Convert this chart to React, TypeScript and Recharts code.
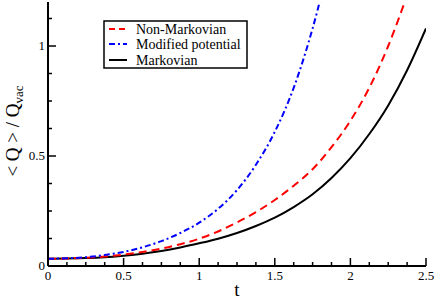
import React from "react";
import { LineChart, Line, XAxis, YAxis, Legend } from "recharts";

// ---- data ----
const tGrid = [0, 0.125, 0.25, 0.375, 0.5, 0.625, 0.75, 0.875, 1, 1.125, 1.25, 1.375, 1.5, 1.625, 1.75, 1.875, 2, 2.125, 2.25, 2.375, 2.5];
const markovV = [0.033, 0.034, 0.036, 0.04, 0.047, 0.056, 0.068, 0.084, 0.103, 0.124, 0.15, 0.182, 0.22, 0.268, 0.326, 0.4, 0.49, 0.6, 0.73, 0.89, 1.08];
const nonMarkovV = [0.033, 0.034, 0.037, 0.043, 0.052, 0.064, 0.079, 0.099, 0.124, 0.157, 0.198, 0.245, 0.3, 0.365, 0.44, 0.54, 0.66, 0.81, 1.0, 1.23];
const modifiedV = [0.033, 0.035, 0.04, 0.05, 0.064, 0.085, 0.113, 0.15, 0.197, 0.26, 0.345, 0.46, 0.61, 0.81, 1.08, 1.42];

const xTicks = [0, 0.125, 0.25, 0.375, 0.5, 0.625, 0.75, 0.875, 1, 1.125, 1.25, 1.375, 1.5, 1.625, 1.75, 1.875, 2, 2.125, 2.25, 2.375, 2.5];
const xMajor = [0, 0.5, 1, 1.5, 2, 2.5];
const yTicks = [0, 0.125, 0.25, 0.375, 0.5, 0.625, 0.75, 0.875, 1, 1.125];
const yMajor = [0, 0.5, 1];

const seriesNames = ["Non-Markovian", "Modified potential", "Markovian"];

const toRows = (vs: number[]) => vs.map((v, i) => ({ t: tGrid[i], v }));
const markovData = toRows(markovV);
const nonMarkovData = toRows(nonMarkovV);
const modifiedData = toRows(modifiedV);

const FONT = '"Liberation Serif", "Times New Roman", Tinos, "DejaVu Serif", "Noto Serif", serif';
const fs = (size: number) => ({ fontFamily: FONT, fontSize: size });
const isMajor = (list: number[], v: number) => list.some((m) => Math.abs(m - v) < 1e-9);

const BottomTick = (p: any) => {
  const v = p.payload.value;
  const major = isMajor(xMajor, v);
  return (
    <g>
      <line x1={p.x} x2={p.x} y1={p.y} y2={p.y - (major ? 8 : 4)} stroke="#000" strokeWidth={1.5} />
      {major && (
        <text x={p.x} y={p.y + 14} textAnchor="middle" style={fs(13)} fill="#000">
          {String(v)}
        </text>
      )}
    </g>
  );
};

const TopTick = (p: any) => {
  const v = p.payload.value;
  const major = isMajor(xMajor, v);
  return <line x1={p.x} x2={p.x} y1={p.y} y2={p.y + (major ? 8 : 4)} stroke="#000" strokeWidth={1.5} />;
};

const LeftTick = (p: any) => {
  const v = p.payload.value;
  const major = isMajor(yMajor, v);
  return (
    <g>
      <line x1={p.x} x2={p.x + (major ? 8 : 4)} y1={p.y} y2={p.y} stroke="#000" strokeWidth={1.5} />
      {major && (
        <text x={p.x - 3} y={p.y + 4} textAnchor="end" style={fs(13)} fill="#000">
          {String(v)}
        </text>
      )}
    </g>
  );
};

const RightTick = (p: any) => {
  const v = p.payload.value;
  const major = isMajor(yMajor, v);
  return <line x1={p.x} x2={p.x - (major ? 8 : 4)} y1={p.y} y2={p.y} stroke="#000" strokeWidth={1.5} />;
};

const LegendBox = () => (
  <svg width={146} height={50} style={{ display: "block" }}>
    <rect x={1} y={1} width={143} height={47} fill="#fff" stroke="#000" strokeWidth={1.5} />
    <line x1={6} x2={24} y1={9} y2={9} stroke="#ff0000" strokeWidth={2} strokeDasharray="6 4" />
    <line x1={6} x2={24} y1={24} y2={24} stroke="#0000ff" strokeWidth={2} strokeDasharray="6 3 2 3" />
    <line x1={6} x2={24} y1={40} y2={40} stroke="#000" strokeWidth={2} />
    <text x={33} y={13.5} style={fs(14)} fill="#000">{seriesNames[0]}</text>
    <text x={33} y={28.5} style={fs(14)} fill="#000">{seriesNames[1]}</text>
    <text x={33} y={44.5} style={fs(14)} fill="#000">{seriesNames[2]}</text>
  </svg>
);

export default function App() {
  return (
    <div style={{ position: "absolute", left: 0, top: 0, background: "#fff", fontFamily: FONT }}>
      <LineChart width={436} height={299} margin={{ top: 2, right: 10, bottom: 0, left: 0 }}>
        <XAxis
          xAxisId="b"
          dataKey="t"
          type="number"
          domain={[0, 2.5]}
          ticks={xTicks}
          interval={0}
          allowDataOverflow
          height={33}
          tickSize={0}
          tickMargin={0}
          tickLine={false}
          axisLine={{ stroke: "#000", strokeWidth: 2 }}
          tick={<BottomTick />}
          label={() => (
            <text x={237} y={296} textAnchor="middle" style={fs(19)} fill="#000">
              t
            </text>
          )}
        />
        <XAxis
          xAxisId="top"
          orientation="top"
          dataKey="t"
          type="number"
          domain={[0, 2.5]}
          ticks={xTicks}
          interval={0}
          allowDataOverflow
          height={0}
          tickSize={0}
          tickMargin={0}
          tickLine={false}
          axisLine={{ stroke: "#000", strokeWidth: 2 }}
          tick={<TopTick />}
        />
        <YAxis
          yAxisId="l"
          type="number"
          domain={[0, 1.2]}
          ticks={yTicks}
          interval={0}
          allowDataOverflow
          width={48}
          tickSize={0}
          tickMargin={0}
          tickLine={false}
          axisLine={{ stroke: "#000", strokeWidth: 2 }}
          tick={<LeftTick />}
          label={() => (
            <text transform="rotate(-90)" x={-131} y={19} textAnchor="middle" style={fs(19)} fill="#000">
              {"< Q > / Q"}
              <tspan style={fs(13)} dy={4}>vac</tspan>
            </text>
          )}
        />
        <YAxis
          yAxisId="r"
          orientation="right"
          type="number"
          domain={[0, 1.2]}
          ticks={yTicks}
          interval={0}
          allowDataOverflow
          width={0}
          tickSize={0}
          tickMargin={0}
          tickLine={false}
          axisLine={{ stroke: "#000", strokeWidth: 2 }}
          tick={<RightTick />}
        />
        <Legend
          layout="vertical"
          align="center"
          verticalAlign="middle"
          wrapperStyle={{ position: "absolute", left: 103, top: 20, width: 146, height: 50 }}
          content={() => <LegendBox />}
        />
        <Line
          xAxisId="b"
          yAxisId="l"
          data={markovData}
          dataKey="v"
          name={seriesNames[2]}
          type="monotone"
          stroke="#000"
          strokeWidth={2}
          dot={false}
          isAnimationActive={false}
        />
        <Line
          xAxisId="b"
          yAxisId="l"
          data={nonMarkovData}
          dataKey="v"
          name={seriesNames[0]}
          type="monotone"
          stroke="#ff0000"
          strokeWidth={2}
          strokeDasharray="8 5"
          dot={false}
          isAnimationActive={false}
        />
        <Line
          xAxisId="b"
          yAxisId="l"
          data={modifiedData}
          dataKey="v"
          name={seriesNames[1]}
          type="monotone"
          stroke="#0000ff"
          strokeWidth={2}
          strokeDasharray="6 3 2 3"
          dot={false}
          isAnimationActive={false}
        />
      </LineChart>
    </div>
  );
}
